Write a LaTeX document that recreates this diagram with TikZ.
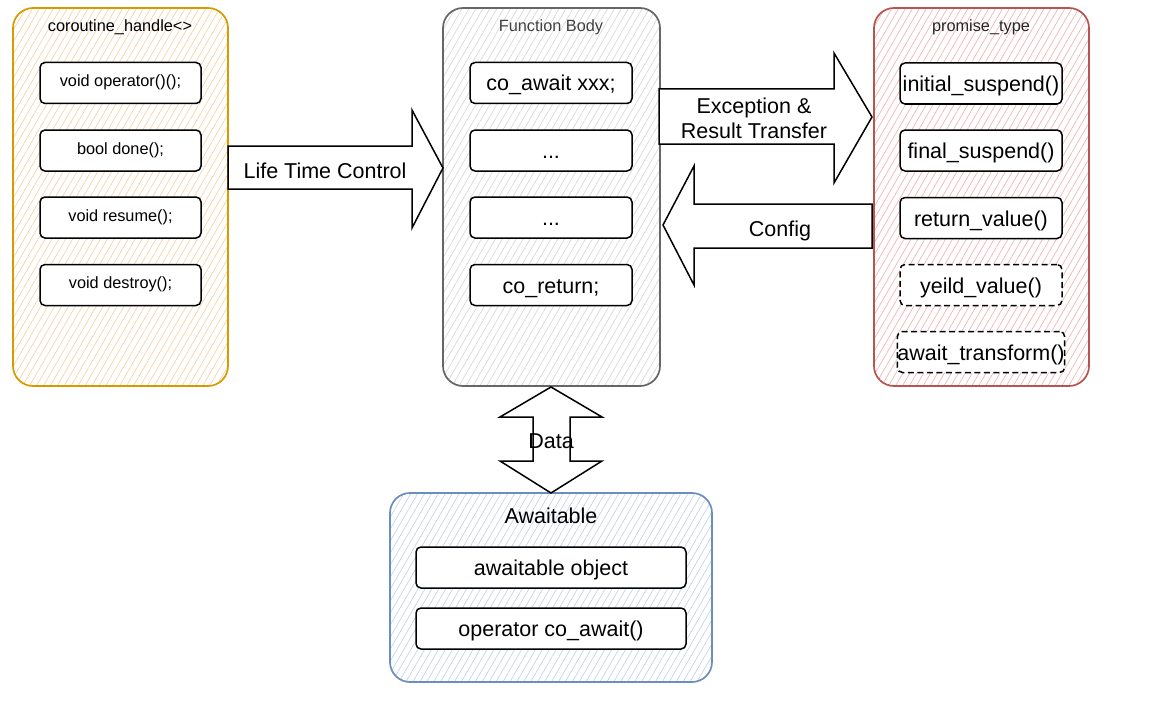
\documentclass[tikz,border=0pt]{standalone}
\usepackage{fontspec}
\setmainfont{Liberation Sans}
\usetikzlibrary{patterns.meta}
\definecolor{ystroke}{HTML}{D79B00}
\definecolor{yhatch}{HTML}{F7D3A6}
\definecolor{rstroke}{HTML}{B85450}
\definecolor{rhatch}{HTML}{F0B5B3}
\definecolor{bstroke}{HTML}{6C8EBF}
\definecolor{bhatch}{HTML}{C2D4EC}
\definecolor{gstroke}{HTML}{666666}
\definecolor{ghatch}{HTML}{D8D8D8}
\tikzset{
  big/.style={font=\fontsize{21.5}{25}\selectfont},
  small/.style={font=\fontsize{16.3}{19}\selectfont},
  cont/.style={rounded corners=20pt, line width=1.7pt, inner sep=0pt,
    pattern={Lines[angle=60,distance=6pt,line width=0.7pt]}},
  item/.style={draw=black, fill=white, rounded corners=5pt, line width=1.5pt,
    inner sep=0pt, minimum height=41pt},
  bigitem/.style={item, big, text height=18pt, text depth=2pt},
  smallitem/.style={item, small, text height=11.5pt, text depth=4pt},
  dashitem/.style={bigitem, dash pattern=on 6pt off 3.5pt},
  blockarrow/.style={draw=black, fill=white, line width=1.5pt, line join=miter},
}
\begin{document}
\begin{tikzpicture}[x=1pt,y=-1pt]
\useasboundingbox (0,0) rectangle (1152,701);

% containers
\node[cont, draw=ystroke, pattern color=yhatch, minimum width=215pt, minimum height=378pt] (ch) at (120.5,197) {};
\node[cont, draw=gstroke, pattern color=ghatch, minimum width=217pt, minimum height=378pt] (fb) at (551.5,197) {};
\node[cont, draw=rstroke, pattern color=rhatch, minimum width=215pt, minimum height=378pt] (pt) at (981.5,197) {};
\node[cont, draw=bstroke, pattern color=bhatch, minimum width=322pt, minimum height=189pt] (aw) at (551,587.5) {};

% titles
\node[small] (cht) at (120,27) {coroutine\_handle<>};
\node[small, text=black!75] (fbt) at (551,27) {Function Body};
\node[small, text=black!85] (ptt) at (981,27) {promise\_type};
\node[big] (awt) at (551,516) {Awaitable};

% coroutine_handle items
\node[smallitem, minimum width=161pt] (c1) at (120.5,83) {void operator()();};
\node[smallitem, minimum width=161pt] (c2) at (120.5,150.5) {bool done();};
\node[smallitem, minimum width=161pt] (c3) at (120.5,217.5) {void resume();};
\node[smallitem, minimum width=161pt] (c4) at (120.5,285) {void destroy();};

% function body items
\node[bigitem, minimum width=162pt] (f1) at (551,83) {co\_await xxx;};
\node[bigitem, minimum width=162pt] (f2) at (551,150.5) {...};
\node[bigitem, minimum width=162pt] (f3) at (551,217.5) {...};
\node[bigitem, minimum width=162pt] (f4) at (551,285) {co\_return;};

% promise_type items
\node[bigitem, minimum width=162pt] (p1) at (981,83.5) {initial\_suspend()};
\node[bigitem, minimum width=162pt] (p2) at (981,150.5) {final\_suspend()};
\node[bigitem, minimum width=162pt] (p3) at (981,218) {return\_value()};
\node[dashitem, minimum width=162pt] (p4) at (981,285) {yeild\_value()};
\node[dashitem, minimum width=162pt] (p5) at (981,352) {await\_transform()};

% awaitable items
\node[bigitem, minimum width=270pt] (a1) at (551,567.5) {awaitable object};
\node[bigitem, minimum width=270pt] (a2) at (551,628.5) {operator co\_await()};

% block arrows
\draw[blockarrow] (228,146) -- (412,146) -- (412,110) -- (443,168) -- (412,228) -- (412,189) -- (228,189) -- cycle;
\draw[blockarrow] (659,89) -- (834,89) -- (834,53) -- (872,117) -- (834,183) -- (834,144) -- (659,144) -- cycle;
\draw[blockarrow] (872,204) -- (694,204) -- (694,166) -- (663,225) -- (694,285) -- (694,248) -- (872,248) -- cycle;
\draw[blockarrow] (551,387) -- (602,417) -- (570,417) -- (570,461) -- (602,461) -- (551,493) -- (500,461) -- (533,461) -- (533,417) -- (500,417) -- cycle;

% arrow labels
\node[big] (lt) at (325,171) {Life Time Control};
\node[big, align=center] (ex) at (754,118) {Exception \&\\Result Transfer};
\node[big] (cfg) at (780,231) {Config};
\node[big] (dat) at (551,441) {Data};
\end{tikzpicture}
\end{document}
